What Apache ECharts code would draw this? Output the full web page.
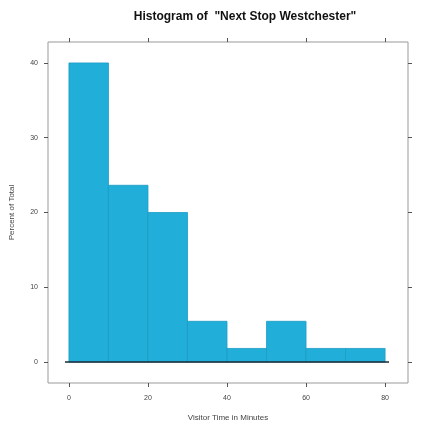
<!DOCTYPE html>
<html><head><meta charset="utf-8">
<script src="https://cdn.jsdelivr.net/npm/echarts@6/dist/echarts.min.js"></script>
<style>html,body{margin:0;padding:0;background:#fff}#c{width:427px;height:428px}</style>
</head><body><div id="c"></div>
<script>
var binStarts = [0, 10, 20, 30, 40, 50, 60, 70];
var binEnds   = [10, 20, 30, 40, 50, 60, 70, 80];
var percents  = [40, 23.64, 20, 5.45, 1.82, 5.45, 1.82, 1.82];
var xTicks = [0, 20, 40, 60, 80];
var yTicks = [0, 10, 20, 30, 40];

var chart = echarts.init(document.getElementById('c'));
var bins = binStarts.map(function(s, i){ return [s, binEnds[i], percents[i]]; });
var font = 'Liberation Sans, Arial, sans-serif';
var tick = function(vals){ return {show: true, inside: false, length: 4, lineStyle: {color: '#555', width: 1}, customValues: vals}; };
var base = {axisLine: {show: false, onZero: false}, splitLine: {show: false}};
chart.setOption({
  animation: false,
  title: {
    text: 'Histogram of  "Next Stop Westchester"',
    left: 240, top: 6, textAlign: 'center',
    textStyle: {fontFamily: font, fontSize: 12, fontWeight: 'bold', color: '#111'}
  },
  grid: {left: 48, right: 19, top: 42, bottom: 45, show: true, borderColor: '#999', borderWidth: 1, backgroundColor: 'transparent'},
  xAxis: [
    Object.assign({type: 'value', min: -5.3, max: 85.8, position: 'bottom',
      name: 'Visitor Time in Minutes', nameLocation: 'middle', nameGap: 31,
      nameTextStyle: {fontFamily: font, fontSize: 8, color: '#444'},
      axisTick: tick(xTicks),
      axisLabel: {customValues: xTicks, fontFamily: font, fontSize: 7, color: '#444', margin: 12}}, base),
    Object.assign({type: 'value', min: -5.3, max: 85.8, position: 'top',
      axisTick: tick(xTicks), axisLabel: {show: false}}, base)
  ],
  yAxis: [
    Object.assign({type: 'value', min: -2.8, max: 42.8, position: 'left',
      name: 'Percent of Total', nameLocation: 'middle', nameGap: 32,
      nameTextStyle: {fontFamily: font, fontSize: 8, color: '#444'},
      axisTick: tick(yTicks),
      axisLabel: {customValues: yTicks, fontFamily: font, fontSize: 7, color: '#444', margin: 10}}, base),
    Object.assign({type: 'value', min: -2.8, max: 42.8, position: 'right',
      axisTick: tick(yTicks), axisLabel: {show: false}}, base)
  ],
  series: [
    {
      type: 'custom',
      xAxisIndex: 0, yAxisIndex: 0,
      data: bins,
      encode: {x: [0, 1], y: 2},
      renderItem: function(params, api){
        var p0 = api.coord([api.value(0), api.value(2)]);
        var p1 = api.coord([api.value(1), 0]);
        return {
          type: 'rect',
          shape: {x: p0[0], y: p0[1], width: p1[0] - p0[0], height: p1[1] - p0[1]},
          style: {fill: '#21afda', stroke: '#1d9cc4', lineWidth: 0.8}
        };
      }
    },
    {
      type: 'line', xAxisIndex: 0, yAxisIndex: 0,
      data: [[-1, 0], [81, 0]], symbol: 'none',
      lineStyle: {color: '#1c2a33', width: 1.5}
    }
  ]
});
</script></body></html>
